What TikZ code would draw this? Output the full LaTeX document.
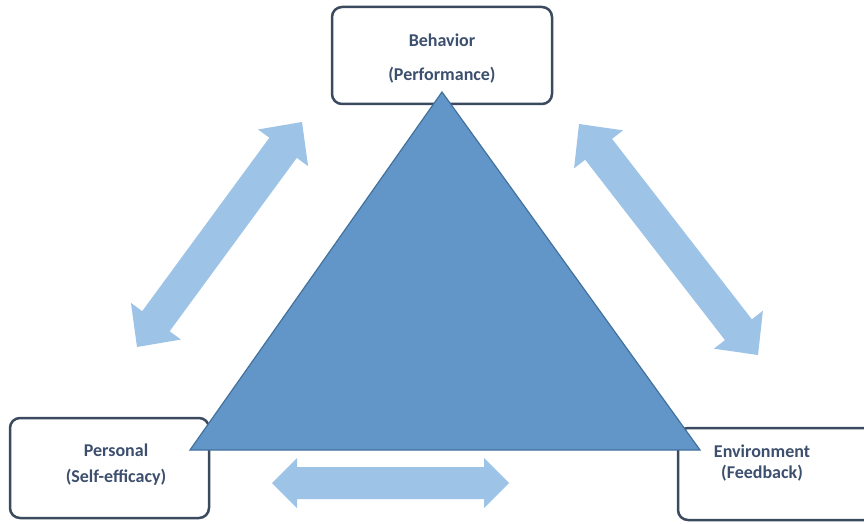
\documentclass[tikz,border=0pt]{standalone}
\usepackage{fontspec}
\setmainfont{Carlito}
\usetikzlibrary{calc}
\definecolor{txt}{HTML}{3D4F6E}
\definecolor{boxline}{HTML}{3B4A5E}
\definecolor{trifill}{HTML}{6396C8}
\definecolor{triline}{HTML}{41719C}
\definecolor{arrfill}{HTML}{9DC3E6}
\tikzset{
  box/.style={draw=boxline, line width=2.5pt, rounded corners=10pt, fill=white},
  lbl/.style={text=txt, font=\fontsize{18}{20}\selectfont\bfseries, inner sep=0pt},
  tri/.style={fill=trifill, draw=triline, line width=1.2pt, line join=miter},
  dbl/.style={fill=arrfill, draw=none}
}
% double arrow between two named coordinates: #1,#2 ends; #3 head length; #4 head half-width; #5 shaft half-width
\newcommand\dblarrowshape[5]{%
  \fill[dbl] (#1)
    -- ($($(#1)!#3!(#2)$)!#4!90:(#2)$)
    -- ($($(#1)!#3!(#2)$)!#5!90:(#2)$)
    -- ($($(#2)!#3!(#1)$)!#5!-90:(#1)$)
    -- ($($(#2)!#3!(#1)$)!#4!-90:(#1)$)
    -- (#2)
    -- ($($(#2)!#3!(#1)$)!#4!90:(#1)$)
    -- ($($(#2)!#3!(#1)$)!#5!90:(#1)$)
    -- ($($(#1)!#3!(#2)$)!#5!-90:(#2)$)
    -- ($($(#1)!#3!(#2)$)!#4!-90:(#2)$)
    -- cycle;}
\begin{document}
\begin{tikzpicture}[x=1pt,y=-1pt]
\useasboundingbox (0,0) rectangle (864,524);
% boxes
\draw[box] (332,7) rectangle (552,104);
\node[lbl] (beh1) at (442,40) {Behavior};
\node[lbl] (beh2) at (442,75) {(Performance)};
\draw[box] (10,418) rectangle (209,518);
\node[lbl] (per1) at (116,450) {Personal};
\node[lbl] (per2) at (116,477) {(Self-efficacy)};
\draw[box] (678,428) rectangle (880,520);
\node[lbl] (env1) at (762,451) {Environment};
\node[lbl] (env2) at (762,473) {(Feedback)};
% triangle
\coordinate (apex) at (442,92);
\coordinate (bl) at (190,450);
\coordinate (br) at (700,450);
\draw[tri] (apex) -- (bl) -- (br) -- cycle;
% arrows
\coordinate (la) at (137,347);
\coordinate (lb) at (302,122);
\coordinate (ra) at (579,124);
\coordinate (rb) at (758,355);
\coordinate (ba) at (272,483);
\coordinate (bb) at (509,483);
\dblarrowshape{la}{lb}{32pt}{31pt}{17pt}
\dblarrowshape{ra}{rb}{32pt}{31pt}{17pt}
\dblarrowshape{ba}{bb}{25pt}{25pt}{16pt}
\end{tikzpicture}
\end{document}
